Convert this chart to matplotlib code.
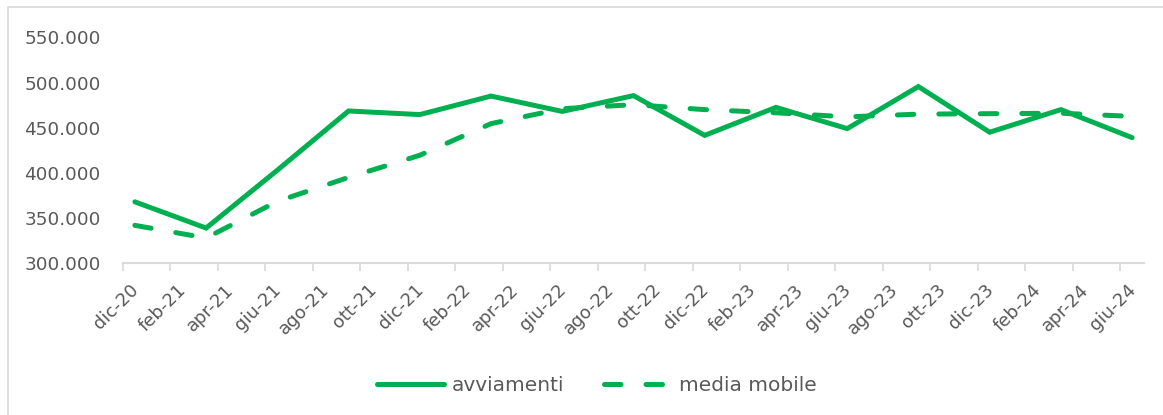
import matplotlib.pyplot as plt
from matplotlib.patches import Rectangle
from matplotlib.transforms import ScaledTranslation

# dati trimestrali (dic-20 ... giu-24)
periodi = ['dic-20', 'mar-21', 'giu-21', 'set-21', 'dic-21', 'mar-22', 'giu-22', 'set-22',
           'dic-22', 'mar-23', 'giu-23', 'set-23', 'dic-23', 'mar-24', 'giu-24']
avviamenti = [368000, 339000, 403000, 468500, 464500, 485000, 468000, 485500,
              441500, 472500, 449000, 495500, 445000, 470000, 439000]
media_mobile = [342000, 328000, 368500, 395000, 419500, 454500, 471000, 475500,
                470000, 466500, 462000, 465000, 465500, 466000, 462500]

# etichette asse x (ogni 2 mesi)
etichette_x = ['dic-20', 'feb-21', 'apr-21', 'giu-21', 'ago-21', 'ott-21', 'dic-21', 'feb-22',
               'apr-22', 'giu-22', 'ago-22', 'ott-22', 'dic-22', 'feb-23', 'apr-23', 'giu-23',
               'ago-23', 'ott-23', 'dic-23', 'feb-24', 'apr-24', 'giu-24']
y_ticks = [300000, 350000, 400000, 450000, 500000, 550000]

verde = '#00B050'
grigio = '#595959'
plt.rcParams['font.family'] = ['DejaVu Sans']

fig = plt.figure(figsize=(11.63, 4.15), dpi=100)
ax = fig.add_axes([123 / 1163, 151.7 / 415, 1021 / 1163, 226 / 415])

# cornice grigia del grafico
fig.patches.append(Rectangle((8 / 1163, -0.2), 1.2, 1.2 - 7.5 / 415,
                             transform=fig.transFigure, fill=False,
                             edgecolor='#d9d9d9', linewidth=1.2))

# posizione al centro del mese (indice mese da dic-20)
x = [3 * i + 0.5 for i in range(len(periodi))]

ax.plot(x, avviamenti, color=verde, linewidth=3.6, solid_capstyle='round',
        solid_joinstyle='miter', label='avviamenti')
ax.plot(x, media_mobile, color=verde, linewidth=3.6, dashes=(3.3, 5),
        dash_capstyle='round', label='media mobile')

ax.set_xlim(0, 43)
ax.set_ylim(300000, 550000)
ax.set_yticks(y_ticks)
ax.set_yticklabels([f'{v:,}'.replace(',', '.') for v in y_ticks])
ax.set_xticks(range(0, 43, 2))
ax.set_xticklabels(etichette_x, rotation=45, ha='right', va='center',
                   rotation_mode='anchor')

for s in ['top', 'right', 'left']:
    ax.spines[s].set_visible(False)
ax.spines['bottom'].set_color('#d9d9d9')
ax.spines['bottom'].set_linewidth(1.5)
ax.tick_params(axis='y', length=0, pad=16, labelsize=13.2, labelcolor=grigio)
ax.tick_params(axis='x', length=6, width=1.2, color='#d9d9d9', pad=11,
               labelsize=13, labelcolor=grigio)
for lbl in ax.get_xticklabels():
    lbl.set_transform(lbl.get_transform() + ScaledTranslation(0.13, 0, fig.dpi_scale_trans))

leg = fig.legend(loc='center', bbox_to_anchor=(0.513, 0.072), ncol=2, frameon=False,
                 fontsize=14.5, handlelength=3.33, handletextpad=0.4, columnspacing=1.95)
for t in leg.get_texts():
    t.set_color(grigio)

fig.savefig('out.png', dpi=100)
